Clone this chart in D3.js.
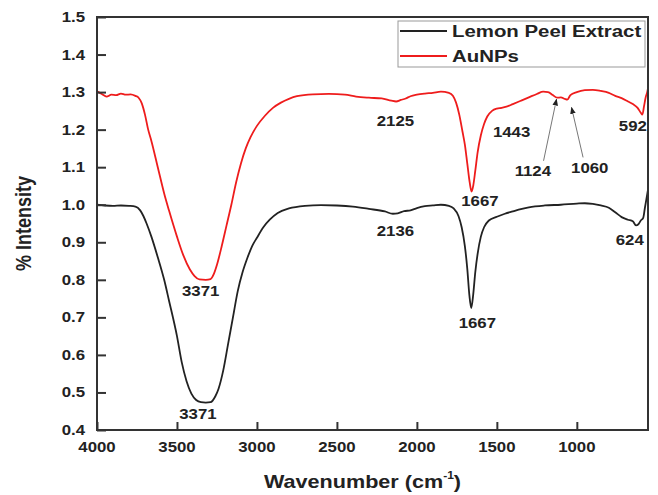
<!DOCTYPE html>
<html>
<head>
  <meta charset="utf-8">
  <title>FTIR Spectra</title>
  <script src="https://d3js.org/d3.v7.min.js"></script>
  <style>
    body { margin: 0; background: #fff; }
    text { font-family: "Liberation Sans", Arial, sans-serif; font-weight: bold; fill: #222; }
  </style>
</head>
<body>
  <div id="chart"></div>

  <script>
    // Lemon peel extract spectrum (wavenumber, intensity)
    const lemonWn = [4000, 3950, 3900, 3850, 3800, 3760, 3730, 3710, 3690, 3660, 3620, 3580, 3550, 3500, 3470, 3440, 3410, 3380, 3350, 3320, 3290, 3260, 3240, 3210, 3180, 3150, 3120, 3090, 3060, 3030, 3000, 2960, 2920, 2870, 2800, 2700, 2600, 2500, 2400, 2300, 2200, 2150, 2120, 2080, 2040, 2000, 1950, 1900, 1850, 1800, 1770, 1740, 1720, 1700, 1685, 1672, 1660, 1648, 1635, 1620, 1600, 1580, 1550, 1500, 1450, 1400, 1350, 1300, 1200, 1100, 1000, 950, 900, 850, 800, 760, 720, 680, 650, 630, 615, 600, 585, 575, 565, 555];
    const lemonVal = [1.000, 0.998, 0.997, 0.998, 0.997, 0.995, 0.985, 0.970, 0.950, 0.915, 0.860, 0.800, 0.745, 0.650, 0.580, 0.530, 0.497, 0.480, 0.474, 0.473, 0.474, 0.490, 0.510, 0.560, 0.630, 0.700, 0.770, 0.820, 0.858, 0.890, 0.912, 0.940, 0.960, 0.978, 0.990, 0.997, 0.999, 0.998, 0.995, 0.989, 0.982, 0.976, 0.977, 0.983, 0.985, 0.991, 0.996, 0.998, 1.000, 0.997, 0.990, 0.970, 0.940, 0.890, 0.830, 0.760, 0.725, 0.760, 0.820, 0.870, 0.915, 0.940, 0.958, 0.968, 0.976, 0.982, 0.988, 0.993, 0.998, 1.000, 1.003, 1.004, 1.002, 0.998, 0.992, 0.980, 0.967, 0.960, 0.956, 0.945, 0.948, 0.958, 0.965, 0.990, 1.015, 1.040];

    // AuNPs spectrum
    const aunpWn = [4000, 3970, 3940, 3910, 3880, 3850, 3820, 3790, 3760, 3740, 3720, 3700, 3680, 3660, 3620, 3580, 3550, 3500, 3460, 3420, 3390, 3360, 3320, 3290, 3270, 3250, 3220, 3190, 3160, 3130, 3100, 3070, 3040, 3000, 2950, 2900, 2850, 2800, 2750, 2650, 2550, 2450, 2380, 2300, 2220, 2160, 2130, 2100, 2070, 2040, 2000, 1950, 1900, 1850, 1800, 1775, 1755, 1735, 1715, 1700, 1685, 1670, 1658, 1648, 1635, 1620, 1600, 1580, 1560, 1530, 1500, 1470, 1440, 1400, 1350, 1300, 1250, 1210, 1180, 1150, 1124, 1100, 1075, 1060, 1040, 1000, 950, 900, 850, 800, 760, 720, 680, 650, 620, 600, 590, 580, 570, 560, 555];
    const aunpVal = [1.302, 1.295, 1.288, 1.293, 1.292, 1.296, 1.293, 1.294, 1.290, 1.285, 1.270, 1.240, 1.200, 1.170, 1.100, 1.030, 0.985, 0.915, 0.865, 0.828, 0.810, 0.801, 0.800, 0.802, 0.815, 0.840, 0.890, 0.945, 1.000, 1.060, 1.110, 1.150, 1.180, 1.210, 1.237, 1.258, 1.272, 1.282, 1.289, 1.294, 1.295, 1.293, 1.288, 1.285, 1.283, 1.277, 1.275, 1.279, 1.283, 1.289, 1.293, 1.296, 1.298, 1.301, 1.298, 1.290, 1.272, 1.240, 1.195, 1.160, 1.110, 1.060, 1.035, 1.050, 1.090, 1.140, 1.185, 1.215, 1.235, 1.250, 1.256, 1.258, 1.261, 1.268, 1.277, 1.286, 1.295, 1.301, 1.300, 1.292, 1.285, 1.286, 1.282, 1.280, 1.292, 1.300, 1.305, 1.306, 1.303, 1.298, 1.290, 1.284, 1.275, 1.268, 1.258, 1.245, 1.240, 1.262, 1.285, 1.300, 1.310];

    // Peak annotations: text, centre position (wavenumber, intensity)
    const peakLabels = ["3371", "3371", "2125", "2136", "1667", "1667", "1443", "1124", "1060", "592", "624"];
    const peakWn = [3352, 3369, 2134, 2134, 1606, 1622, 1408, 1275, 919, 650, 669];
    const peakVal = [0.770, 0.443, 1.224, 0.930, 1.011, 0.685, 1.193, 1.091, 1.097, 1.210, 0.905];

    // Arrows for 1124 and 1060: from label to band
    const arrowFromWn = [1208, 961];
    const arrowFromVal = [1.117, 1.126];
    const arrowToWn = [1127, 1033];
    const arrowToVal = [1.281, 1.259];

    const seriesNames = ["Lemon Peel Extract", "AuNPs"];
    const seriesColors = ["#222222", "#ee1c1c"];

    const xTicks = [4000, 3500, 3000, 2500, 2000, 1500, 1000];
    const yTicks = [0.4, 0.5, 0.6, 0.7, 0.8, 0.9, 1.0, 1.1, 1.2, 1.3, 1.4, 1.5];

    const W = 658, H = 495;
    const margin = { top: 17, right: 10, bottom: 65, left: 97 };
    const width = W - margin.left - margin.right,
          height = H - margin.top - margin.bottom;
    const stretch = 1.2; // glyphs in the figure are widened

    const svg = d3.select("#chart")
      .append("svg")
      .attr("width", W)
      .attr("height", H);

    const g = svg.append("g")
      .attr("transform", "translate(" + margin.left + "," + margin.top + ")");

    const x = d3.scaleLinear().domain([4000, 555]).range([0, width]);
    const y = d3.scaleLinear().domain([0.4, 1.5]).range([height, 0]);

    function label(parent, tx, ty, str, size, anchor) {
      return parent.append("text")
        .attr("transform", "translate(" + tx + "," + ty + ") scale(" + stretch + ",1)")
        .attr("text-anchor", anchor || "middle")
        .attr("dominant-baseline", "central")
        .style("font-size", size + "px")
        .text(str);
    }

    // spectra
    const line = d3.line()
      .x(d => x(d[0]))
      .y(d => y(d[1]))
      .curve(d3.curveMonotoneX);

    const series = [d3.zip(lemonWn, lemonVal), d3.zip(aunpWn, aunpVal)];
    series.forEach((s, i) => {
      g.append("path")
        .datum(s)
        .attr("fill", "none")
        .attr("stroke", seriesColors[i])
        .attr("stroke-width", 1.8)
        .attr("stroke-linejoin", "round")
        .attr("d", line);
    });

    // frame
    g.append("rect")
      .attr("width", width).attr("height", height)
      .attr("fill", "none").attr("stroke", "#333").attr("stroke-width", 2);

    // x axis ticks (inward)
    const xAxis = g.append("g").attr("transform", "translate(0," + height + ")");
    xAxis.call(d3.axisBottom(x).tickValues(d3.range(750, 4000, 500)).tickSize(-5).tickFormat(""))
    xAxis.call(d3.axisBottom(x).tickValues(xTicks).tickSize(-8).tickFormat(""));
    xAxis.selectAll(".domain").remove();
    xAxis.selectAll("line").attr("stroke", "#333").attr("stroke-width", 2);
    xTicks.forEach(t => label(g, x(t), height + 17, d3.format("d")(t), 14));

    // y axis ticks (inward)
    const yAxis = g.append("g");
    yAxis.call(d3.axisLeft(y).tickValues(d3.range(0.45, 1.5, 0.1)).tickSize(-5).tickFormat(""));
    yAxis.call(d3.axisLeft(y).tickValues(yTicks).tickSize(-9).tickFormat(""));
    yAxis.selectAll(".domain").remove();
    yAxis.selectAll("line").attr("stroke", "#333").attr("stroke-width", 2);
    yTicks.forEach(t => label(g, -12, y(t), d3.format(".1f")(t), 14, "end"));

    // axis titles
    const xt = label(g, width / 2 - 10, height + 52, "", 18);
    xt.append("tspan").text("Wavenumber (cm");
    xt.append("tspan").text("-1").style("font-size", "10px").attr("dy", -7);
    xt.append("tspan").text(")").attr("dy", 7);

    svg.append("text")
      .attr("transform", "translate(23," + (margin.top + y(0.95)) + ") rotate(-90) scale(1," + stretch + ")")
      .attr("text-anchor", "middle")
      .attr("dominant-baseline", "central")
      .style("font-size", "18px")
      .text("% Intensity");

    // peak labels
    peakLabels.forEach((p, i) => label(g, x(peakWn[i]), y(peakVal[i]), p, 14));

    // arrows
    const defs = svg.append("defs");
    defs.append("marker")
      .attr("id", "head")
      .attr("viewBox", "0 0 10 10")
      .attr("refX", 9).attr("refY", 5)
      .attr("markerWidth", 7).attr("markerHeight", 7)
      .attr("orient", "auto")
      .append("path").attr("d", "M0,1L10,5L0,9Z").attr("fill", "#222");

    arrowFromWn.forEach((w, i) => {
      g.append("line")
        .attr("x1", x(w)).attr("y1", y(arrowFromVal[i]))
        .attr("x2", x(arrowToWn[i])).attr("y2", y(arrowToVal[i]))
        .attr("stroke", "#777").attr("stroke-width", 1)
        .attr("marker-end", "url(#head)");
    });

    // legend
    const lg = g.append("g").attr("transform", "translate(" + (398 - margin.left) + "," + (21 - margin.top) + ")");
    lg.append("rect")
      .attr("width", 247).attr("height", 46)
      .attr("fill", "#fff").attr("stroke", "#999").attr("stroke-width", 1);
    seriesNames.forEach((n, i) => {
      const ly = 10 + i * 25;
      lg.append("line")
        .attr("x1", 2).attr("x2", 49).attr("y1", ly).attr("y2", ly)
        .attr("stroke", seriesColors[i]).attr("stroke-width", 2);
      label(lg, 54, ly, n, 17, "start");
    });
  </script>
</body>
</html>
